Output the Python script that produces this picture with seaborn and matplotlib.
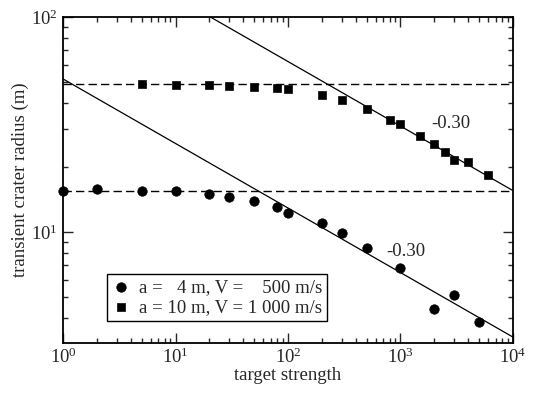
import numpy as np
import pandas as pd
import matplotlib
matplotlib.use("Agg")
import matplotlib.pyplot as plt
import seaborn as sns
from matplotlib.ticker import NullFormatter

# a = 4 m, V = 500 m/s
fuerza_a4 = [1, 2, 5, 10, 20, 30, 50, 80, 100, 200, 300, 500, 1000, 2000, 3000, 5000]
radio_a4 = [15.5, 15.8, 15.6, 15.5, 15.1, 14.6, 14.0, 13.1, 12.3, 11.0, 9.9, 8.4, 6.8, 4.4, 5.1, 3.8]

# a = 10 m, V = 1000 m/s
fuerza_a10 = [5, 10, 20, 30, 50, 80, 100, 200, 300, 500, 800, 1000, 1500, 2000, 2500, 3000, 4000, 6000]
radio_a10 = [48.8, 48.4, 48.4, 47.7, 47.4, 46.5, 46.1, 43.4, 41.1, 37.3, 33.2, 31.8, 28.0, 25.7, 23.6, 21.6, 21.1, 18.4]

# niveles de las lineas horizontales y ajustes de potencia (C * x^pendiente)
nivel_a4 = 15.5
nivel_a10 = 48.6
pendiente = -0.30
coef_a4 = 51.5
coef_a10 = 247.0

etiquetas = ["a =   4 m, V =    500 m/s", "a = 10 m, V = 1 000 m/s"]

sns.set_style("ticks")
plt.rcParams['font.family'] = ['Liberation Serif', 'DejaVu Serif']
plt.rcParams['mathtext.fontset'] = 'stix'

fig = plt.figure(figsize=(5.41, 3.94), dpi=100)
ax = fig.add_axes([0.1165, 0.1294, 0.8317, 0.8276])

df_a4 = pd.DataFrame({'x': fuerza_a4, 'y': radio_a4})
df_a10 = pd.DataFrame({'x': fuerza_a10, 'y': radio_a10})

# lineas discontinuas
ax.axhline(nivel_a4, color='black', linestyle=(0, (6, 3)), linewidth=1.0, zorder=1)
ax.axhline(nivel_a10, color='black', linestyle=(0, (6, 3)), linewidth=1.0, zorder=1)

# ajustes con pendiente -0.30
x_ajuste = np.array([1.0, 1e4])
sns.lineplot(x=x_ajuste, y=coef_a4 * x_ajuste ** pendiente, color='black', linewidth=0.9, ax=ax, zorder=1)
sns.lineplot(x=x_ajuste, y=coef_a10 * x_ajuste ** pendiente, color='black', linewidth=0.9, ax=ax, zorder=1)

sns.scatterplot(data=df_a4, x='x', y='y', marker='o', s=46, color='black', edgecolor='black',
                label=etiquetas[0], ax=ax, zorder=3, clip_on=False)
sns.scatterplot(data=df_a10, x='x', y='y', marker='s', s=36, color='black', edgecolor='black',
                label=etiquetas[1], ax=ax, zorder=3, clip_on=False)

ax.set_xscale('log')
ax.set_yscale('log')
ax.set_xlim(1, 1e4)
ax.set_ylim(3.05, 100)

ax.text(2800, 32, '-0.30', fontsize=13.5, ha='center', va='center')
ax.text(1120, 8.1, '-0.30', fontsize=13.5, ha='center', va='center')

ax.set_xlabel('target strength', fontsize=13.5, labelpad=0)
ax.set_ylabel('transient crater radius (m)', fontsize=13.5, labelpad=2)

ax.tick_params(which='both', direction='in', top=True, right=True, labelsize=13.5, width=1.0)
ax.tick_params(which='major', length=7)
ax.tick_params(which='minor', length=3.5)
ax.yaxis.set_minor_formatter(NullFormatter())
ax.xaxis.set_minor_formatter(NullFormatter())
for s in ax.spines.values():
    s.set_linewidth(1.3)
    s.set_color('black')

leg = ax.legend(loc='lower left', bbox_to_anchor=(0.097, 0.068), fontsize=13.5, frameon=True,
                fancybox=False, edgecolor='black', framealpha=1, handletextpad=0.5,
                borderpad=0.25, labelspacing=0.15, handlelength=1.0, borderaxespad=0)
leg.get_frame().set_linewidth(1.0)

fig.savefig('out.png', dpi=100)
